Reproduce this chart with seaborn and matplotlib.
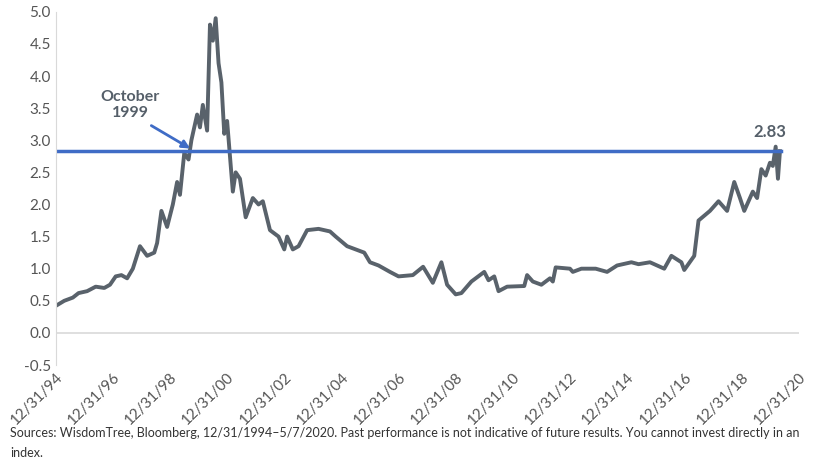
import matplotlib
matplotlib.use("Agg")
import matplotlib.pyplot as plt
import seaborn as sns
import pandas as pd

years = [1995.0,1995.3,1995.6,1995.8,1996.1,1996.4,1996.7,1996.9,1997.1,1997.3,1997.5,1997.7,1997.95,1998.2,1998.45,1998.55,1998.7,1998.9,1999.1,1999.25,1999.35,
         1999.5,1999.65,1999.75,1999.95,2000.05,2000.15,2000.3,2000.4,2000.5,2000.6,2000.7,2000.8,2000.9,2001.0,2001.2,2001.3,2001.45,2001.65,2001.9,2002.1,2002.25,
         2002.5,2002.8,2003.0,2003.1,2003.3,2003.5,2003.8,2004.2,2004.6,2004.8,2005.2,2005.5,2005.8,2006.0,2006.3,2006.7,2007.0,2007.5,2007.86,2008.2,2008.5,2008.7,
         2009.0,2009.2,2009.55,2010.0,2010.15,2010.35,2010.5,2010.8,2011.4,2011.5,2011.7,2012.0,2012.3,2012.4,2012.5,2013.0,2013.1,2013.4,2013.9,2014.3,2014.65,
         2015.15,2015.4,2015.8,2016.3,2016.55,2016.9,2017.0,2017.35,2017.5,2017.9,2018.2,2018.5,2018.75,2018.95,2019.1,2019.4,2019.55,2019.7,2019.85,2020.0,2020.1,2020.2,2020.28,2020.35]
values = [0.42,0.5,0.55,0.62,0.65,0.72,0.7,0.75,0.88,0.9,0.85,1.0,1.35,1.2,1.25,1.4,1.9,1.65,2.0,2.35,2.15,
          2.8,2.7,3.0,3.4,3.2,3.55,3.15,4.8,4.55,4.9,4.2,3.9,3.1,3.3,2.2,2.5,2.4,1.8,2.1,2.0,2.05,
          1.6,1.5,1.3,1.5,1.3,1.35,1.6,1.62,1.58,1.5,1.35,1.3,1.25,1.1,1.05,0.95,0.88,0.9,1.03,0.78,1.1,0.75,
          0.6,0.62,0.8,0.95,0.82,0.88,0.65,0.72,0.73,0.9,0.8,0.75,0.85,0.8,1.02,1.0,0.95,1.0,1.0,0.95,1.05,
          1.1,1.07,1.1,1.0,1.2,1.1,0.98,1.2,1.75,1.9,2.05,1.9,2.35,2.1,1.9,2.2,2.1,2.55,2.45,2.65,2.6,2.9,2.4,2.83]
tick_years = list(range(1995, 2022, 2))
tick_labels = [f"12/31/{(y-1)%100:02d}" for y in tick_years]
current = 2.83

plt.rcParams["font.family"] = "Lato"
fig, ax = plt.subplots(figsize=(8.19, 4.71), dpi=100)
fig.subplots_adjust(left=0.068, right=0.975, top=0.975, bottom=0.225)
df = pd.DataFrame({"year": years, "value": values})
sns.lineplot(data=df, x="year", y="value", ax=ax, color="#59626b", linewidth=2.8)
ax.plot([1995, 2020.4], [current, current], color="#3f6cc6", linewidth=2.5)
ax.axhline(0, color="#d9d9d9", linewidth=1.2)
ax.set_xlim(1995, 2021)
ax.set_ylim(-0.5, 5.0)
ax.set_yticks([i*0.5 for i in range(-1, 11)])
ax.set_yticklabels([f"{i*0.5:.1f}" for i in range(-1, 11)], color="#555555", fontsize=11)
ax.set_xticks(tick_years)
ax.set_xticklabels(tick_labels, rotation=45, ha="right", rotation_mode="anchor", color="#555555", fontsize=11)
ax.tick_params(length=0)
for s in ["top", "right", "bottom"]:
    ax.spines[s].set_visible(False)
ax.spines["left"].set_color("#d9d9d9")
ax.set_xlabel(""); ax.set_ylabel("")
ax.annotate("October\n1999", xy=(1999.75, current + 0.03), xytext=(1997.6, 3.55), ha="center", va="center",
            fontsize=11.5, fontweight="bold", color="#555f69",
            arrowprops=dict(arrowstyle="-|>", color="#3f6cc6", lw=2, shrinkA=4, shrinkB=1, relpos=(0.7, 0.0)))
ax.text(2020.0, current + 0.18, "2.83", ha="center", va="bottom", fontsize=12, fontweight="bold", color="#555f69")
fig.text(0.012, 0.06, "Sources: WisdomTree, Bloomberg, 12/31/1994\u20135/7/2020. Past performance is not indicative of future results. You cannot invest directly in an\nindex.",
         fontsize=9, color="#333333", va="center", linespacing=1.8)
fig.savefig("out.png", dpi=100)
